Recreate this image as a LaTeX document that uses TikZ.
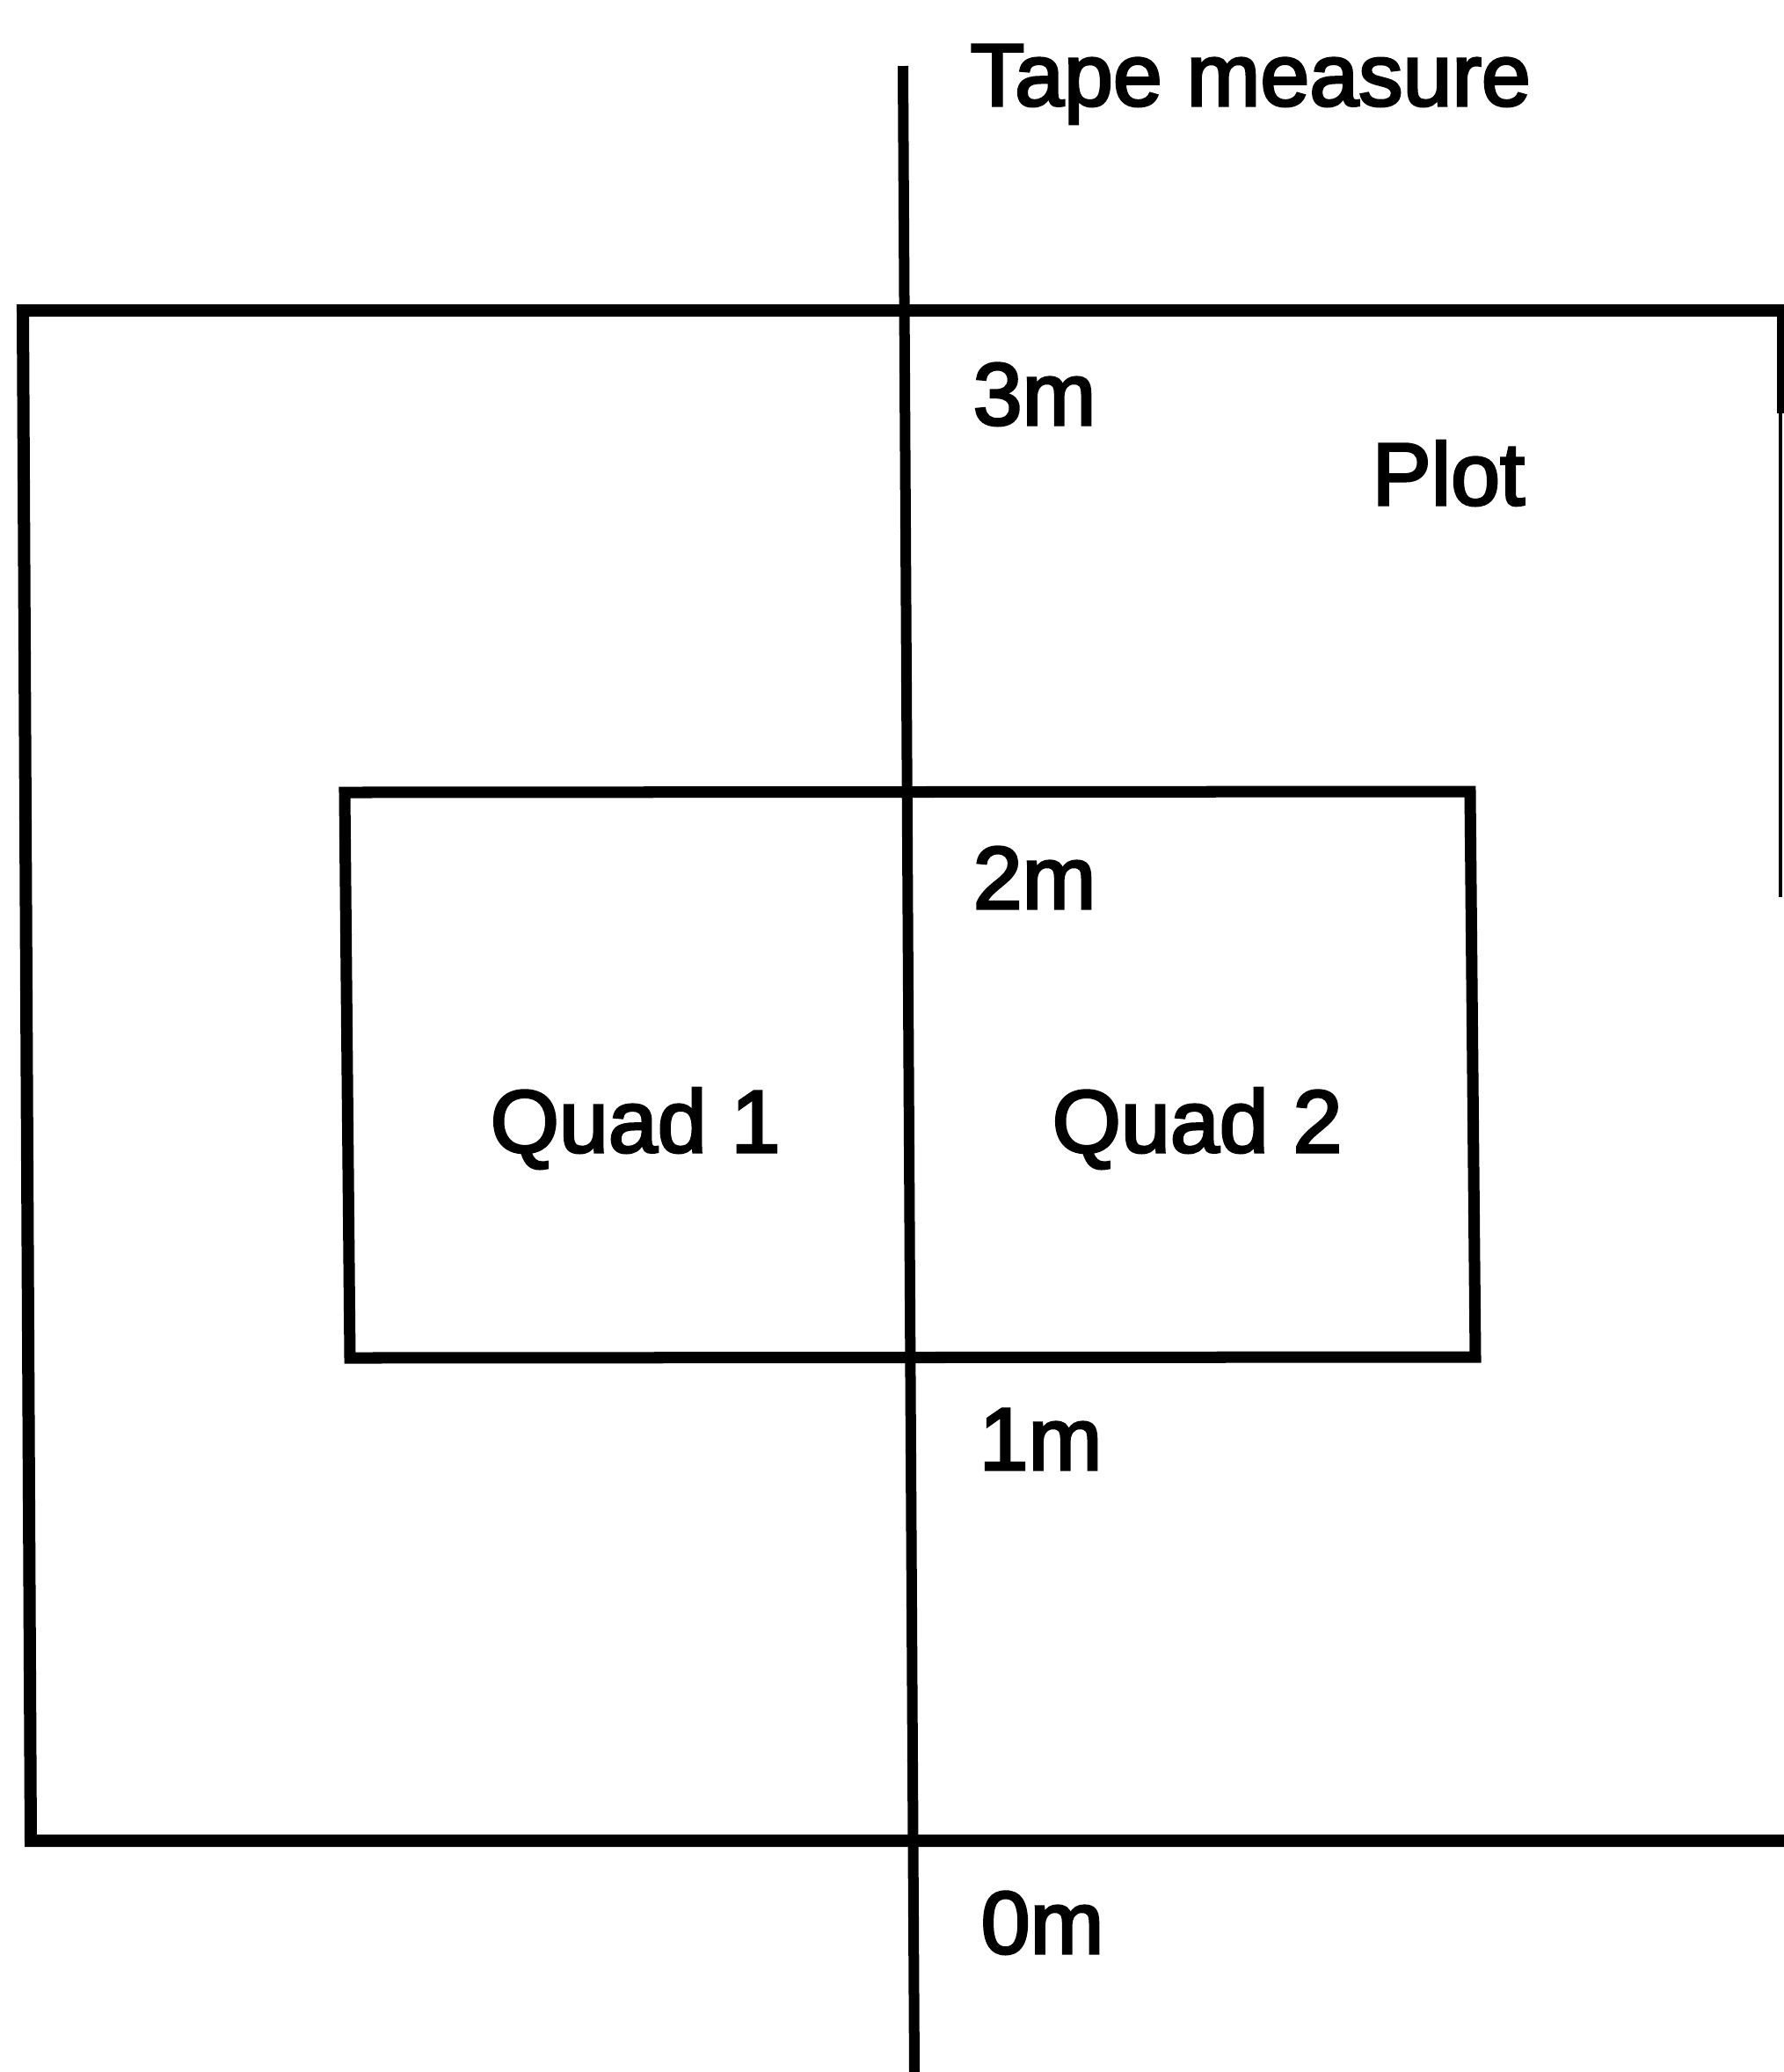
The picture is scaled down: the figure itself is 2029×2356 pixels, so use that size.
\documentclass[tikz,border=0pt]{standalone}
\usepackage{fontspec}
\setmainfont{Liberation Sans}[UprightFeatures={FakeBold=3}]
\begin{document}
\begin{tikzpicture}[x=0.01cm,y=-0.01cm,
  frame/.style={line width=0.14cm,line cap=rect,line join=miter},
  thinframe/.style={line width=0.04cm},
  tape/.style={line width=0.12cm},
  lbl/.style={anchor=base west,inner sep=0pt,font=\fontsize{28.6}{34}\selectfont}]
\useasboundingbox (0,0) rectangle (2029,2356);
% outer plot
\coordinate (otl) at (26,353);
\coordinate (otr) at (2029,353);
\coordinate (obl) at (35,2093);
\coordinate (obr) at (2029,2093);
\coordinate (ort) at (2025,353);
\coordinate (orm) at (2025,470);
\coordinate (orb) at (2025,1020);
\draw[frame] (otr) -- (otl) -- (obl) -- (obr);
\draw[line width=0.08cm] (ort) -- (orm);
\draw[thinframe] (orm) -- (orb);
% inner quadrat
\coordinate (itl) at (392,901);
\coordinate (itr) at (1672,900);
\coordinate (ibr) at (1678,1543);
\coordinate (ibl) at (398,1544);
\draw[frame,line width=0.13cm] (itl) -- (itr) -- (ibr) -- (ibl) -- cycle;
% tape measure
\coordinate (ttop) at (1027,75);
\coordinate (tbot) at (1040,2356);
\draw[tape] (ttop) -- (tbot);
% labels
\node[lbl] (tm) at (1103,120) {Tape measure};
\node[lbl] (m3) at (1106,483) {3m};
\node[lbl] (plot) at (1560,574) {Plot};
\node[lbl] (m2) at (1106,1033) {2m};
\node[lbl] (q1) at (557,1310) {Quad 1};
\node[lbl] (q2) at (1196,1310) {Quad 2};
\node[lbl] (m1) at (1113,1671) {1m};
\node[lbl] (m0) at (1115,2221) {0m};
\end{tikzpicture}
\end{document}
